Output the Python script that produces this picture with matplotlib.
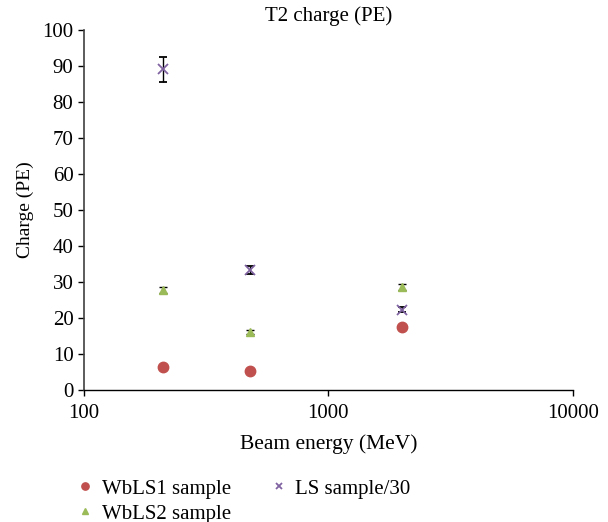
import matplotlib
matplotlib.use("Agg")
import matplotlib.pyplot as plt

plt.rcParams['font.family'] = ['Liberation Serif', 'DejaVu Serif']

energy = [210, 480, 2000]
wbls1 = [6.3, 5.2, 17.6]
wbls1_err = [0.3, 0.3, 0.4]
wbls2 = [27.8, 16.1, 28.5]
wbls2_err = [0.8, 0.6, 0.8]
ls30 = [89.0, 33.3, 22.3]
ls30_err = [3.4, 1.0, 0.8]

fig = plt.figure(figsize=(6.08, 5.22), dpi=100)
ax = fig.add_axes([0.138, 0.253, 0.804, 0.690])

ax.errorbar(energy, wbls1, yerr=wbls1_err, fmt='o', color='#C0504D', ms=7.5,
            ecolor='black', elinewidth=1, capsize=3, capthick=1, label='WbLS1 sample', zorder=3)
ax.errorbar(energy, wbls2, yerr=wbls2_err, fmt='^', color='#9BBB59', ms=6,
            ecolor='black', elinewidth=1, capsize=3, capthick=1, label='WbLS2 sample', zorder=3)
ax.errorbar(energy, ls30, yerr=ls30_err, fmt='x', color='#8064A2', ms=7, mew=1.3,
            ecolor='black', elinewidth=1, capsize=3, capthick=1, label='LS sample/30', zorder=3)

ax.set_xscale('log')
ax.set_xlim(100, 10000)
ax.set_ylim(0, 100)
ax.set_yticks(range(0, 101, 10))
ax.set_xticks([100, 1000, 10000])
ax.set_xticklabels(['100', '1000', '10000'])
ax.minorticks_off()
ax.tick_params(axis='both', direction='out', length=4, labelsize=15, width=1)
ax.tick_params(axis='x', pad=6)
ax.spines['top'].set_visible(False)
ax.spines['right'].set_visible(False)
ax.spines['left'].set_color('#404040')
ax.spines['left'].set_linewidth(1.2)
ax.spines['bottom'].set_linewidth(1.0)

ax.set_title('T2 charge (PE)', fontsize=15, pad=6)
ax.set_xlabel('Beam energy (MeV)', fontsize=15.5, labelpad=8)
ax.set_ylabel('Charge (PE)', fontsize=14, labelpad=6)

handles, labels = ax.get_legend_handles_labels()
handles = [h[0] for h in handles]
leg = fig.legend(handles, labels, loc='upper left', bbox_to_anchor=(0.092, 0.118), ncol=2,
                 frameon=False, fontsize=15, handlelength=1.0, handletextpad=0.3,
                 columnspacing=1.8, labelspacing=0.25, markerscale=0.7)

fig.savefig('out.png', dpi=100)
